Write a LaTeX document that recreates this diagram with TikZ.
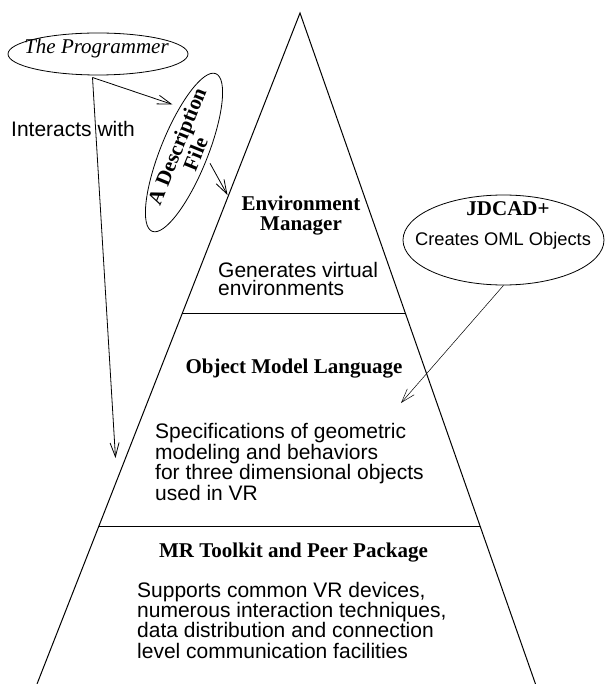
\documentclass[tikz,border=0pt]{standalone}
\usepackage{fontspec}
\setmainfont{Liberation Serif}
\newfontfamily\hv{Liberation Sans}
\usetikzlibrary{arrows.meta,shapes.geometric}
\begin{document}
\begin{tikzpicture}[x=1pt,y=1pt,
  edge/.style={line width=1pt},
  arr/.style={line width=0.8pt,-{Straight Barb[length=14pt,width=9pt]}},
  thinarr/.style={line width=0.5pt,-{Straight Barb[length=14pt,width=9pt]}},
  oval/.style={draw,ellipse,line width=0.8pt,inner sep=0pt},
  ttl/.style={font=\fontsize{21}{20}\selectfont\bfseries,align=center,inner sep=0pt},
  body/.style={font=\hv\fontsize{21}{20.7}\selectfont,align=left,inner sep=0pt},
]
\useasboundingbox (0,0) rectangle (605,-684);
% pyramid
\coordinate (apex) at (300,-13);
\coordinate (bl) at (37,-684);
\coordinate (br) at (535.5,-684);
\coordinate (l1) at (182.4,-313);
\coordinate (r1) at (405.3,-313);
\coordinate (l2) at (98.9,-526);
\coordinate (r2) at (480,-526);
\draw[edge] (bl) -- (apex) -- (br);
\draw[edge] (l1) -- (r1);
\draw[edge] (l2) -- (r2);
% level texts (base anchor = baseline of last line)
\node[ttl,anchor=base] (env) at (301,-231) {Environment\\Manager};
\node[body,anchor=base west,font=\hv\fontsize{21}{18.5}\selectfont] (gen) at (218,-295.5) {Generates virtual\\environments};
\node[ttl,anchor=base] (oml) at (294,-373) {Object Model Language};
\node[body,anchor=base west] (spec) at (155,-500.4) {Specifications of geometric\\modeling and behaviors\\for three dimensional objects\\used in VR};
\node[ttl,anchor=base] (mr) at (293.5,-557) {MR Toolkit and Peer Package};
\node[body,anchor=base west,font=\hv\fontsize{21}{20.4}\selectfont] (sup) at (137,-658.3) {Supports common VR devices,\\numerous interaction techniques,\\data distribution and connection\\level communication facilities};
% programmer
\node[oval,minimum width=180pt,minimum height=42pt] (prog) at (98,-54) {};
\node[anchor=base,inner sep=0pt,font=\fontsize{21}{21}\selectfont\itshape] (progt) at (96.5,-53.3) {The Programmer};
% description file
\node[oval,rotate=68,minimum width=170pt,minimum height=47pt] (desc) at (184,-152.5) {};
\node[ttl,rotate=68] (desct) at (186,-150) {A Description\\File};
% JDCAD
\node[oval,minimum width=201pt,minimum height=90pt] (jd) at (503.5,-240) {};
\node[anchor=base,inner sep=0pt,font=\fontsize{21}{21}\selectfont\bfseries] (jdt) at (508,-216) {JDCAD+};
\node[anchor=base,inner sep=0pt,font=\hv\fontsize{18.3}{20}\selectfont] (jdc) at (503,-246) {Creates OML Objects};
% interacts label
\node[anchor=base west,inner sep=0pt,font=\hv\fontsize{21}{21}\selectfont] (inter) at (11,-137) {Interacts with};
% connectors
\coordinate (pstart) at (92.5,-77.5);
\coordinate (dtip) at (172.5,-104.5);
\coordinate (ptip) at (115.5,-458);
\coordinate (dstart) at (210,-163.3);
\coordinate (etip) at (227.5,-195);
\coordinate (otip) at (401,-403);
\draw[arr] (pstart) -- (dtip);
\draw[arr] (pstart) -- (ptip);
\draw[arr] (dstart) -- (etip);
\draw[thinarr] (jd.south) -- (otip);
\end{tikzpicture}
\end{document}
